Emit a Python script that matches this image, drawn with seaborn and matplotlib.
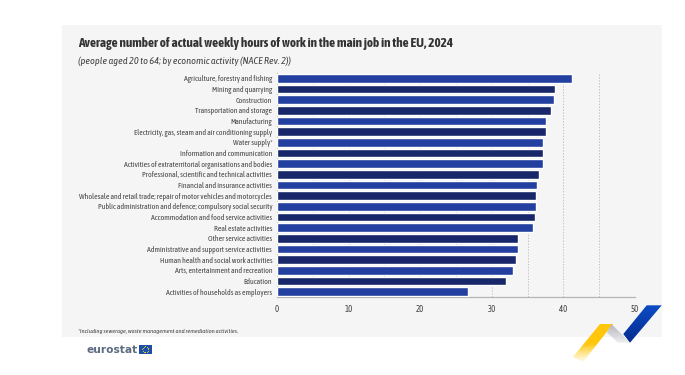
import numpy as np
import pandas as pd
import seaborn as sns
import matplotlib.pyplot as plt
from matplotlib.patches import Polygon, Rectangle

categories = [
    "Agriculture, forestry and fishing",
    "Mining and quarrying",
    "Construction",
    "Transportation and storage",
    "Manufacturing",
    "Electricity, gas, steam and air conditioning supply",
    "Water supply*",
    "Information and communication",
    "Activities of extraterritorial organisations and bodies",
    "Professional, scientific and technical activities",
    "Financial and insurance activities",
    "Wholesale and retail trade; repair of motor vehicles and motorcycles",
    "Public administration and defence; compulsory social security",
    "Accommodation and food service activities",
    "Real estate activities",
    "Other service activities",
    "Administrative and support service activities",
    "Human health and social work activities",
    "Arts, entertainment and recreation",
    "Education",
    "Activities of households as employers",
]
hours = [41.2, 38.8, 38.7, 38.2, 37.5, 37.5, 37.2, 37.1, 37.1, 36.6, 36.3,
         36.2, 36.2, 36.1, 35.7, 33.7, 33.6, 33.4, 33.0, 32.0, 26.7]
x_ticks = [0, 10, 20, 30, 40, 50]

W, H = 685, 375
BLUE = "#2340a0"
NAVY = "#172769"
TEXT = "#444444"

sns.set_theme(style="white")
plt.rcParams["font.family"] = ["Asap Condensed", "Liberation Sans", "DejaVu Sans"]

df = pd.DataFrame({"activity": categories, "hours": hours})
df["band"] = [i % 2 for i in range(len(df))]

fig = plt.figure(figsize=(W / 100, H / 100), dpi=100, facecolor="white")

# page layer in pixel coordinates
bg = fig.add_axes([0, 0, 1, 1], zorder=0)
bg.set_xlim(0, W)
bg.set_ylim(H, 0)
bg.axis("off")
bg.add_patch(Rectangle((62, 25), 600, 312, color="#f5f5f6", lw=0))

ax = fig.add_axes([277 / W, 1 - 297 / H, 358 / W, 224 / H], zorder=1)
ax.patch.set_alpha(0)
sns.barplot(data=df, x="hours", y="activity", hue="band", palette=[BLUE, NAVY],
            dodge=False, legend=False, width=0.8, saturation=1, ax=ax, zorder=3)
ax.set_xlim(0, 50)
ax.set_xlabel("")
ax.set_ylabel("")
ax.set_xticks(x_ticks)
ax.set_xticks(range(0, 51, 5), minor=True)
ax.grid(which="both", axis="x", color="#c4c4c4", lw=0.7, ls=(0, (1.5, 1.5)), zorder=0)
ax.set_axisbelow(True)
ax.tick_params(axis="x", which="both", length=0, pad=6, labelsize=6.3, labelcolor=TEXT)
ax.tick_params(axis="y", length=0, pad=3.5, labelsize=5.55, labelcolor=TEXT)
ax.set_yticks(np.arange(-0.5, len(df)), minor=True)
ax.tick_params(axis="y", which="minor", length=2.5, width=0.6, color="#b9ad8c")
sns.despine(ax=ax, top=True, right=True)
ax.spines["left"].set_color("#b5b5b5")
ax.spines["left"].set_linewidth(0.7)
ax.spines["bottom"].set_color("#b5b5b5")
ax.spines["bottom"].set_linewidth(0.9)

bg.text(78, 44, "Average number of actual weekly hours of work in the main job in the EU, 2024",
        fontsize=9.5, fontweight="bold", color="#333333", va="center")
bg.text(78, 61, "(people aged 20 to 64; by economic activity (NACE Rev. 2))",
        fontsize=7.4, style="italic", color=TEXT, va="center")
bg.text(78, 331, "*Including sewerage, waste management and remediation activities.",
        fontsize=4.6, style="italic", color=TEXT, va="center")

# eurostat logo
bg.text(87, 350, "eurostat", family="DejaVu Sans", fontsize=7.7, fontweight="bold",
        color="#5d6b80", va="center")
bg.add_patch(Rectangle((139, 344.5), 13, 9.5, color="#1c50a8", lw=0))
ang = np.linspace(0, 2 * np.pi, 12, endpoint=False)
bg.scatter(145.5 + 3 * np.cos(ang), 349.2 + 3 * np.sin(ang), s=0.6, color="#f5d33c", lw=0)

# ribbon
def ribbon(pts, cmap_colors, extent, solid=0.0):
    t = np.clip((np.linspace(0, 1, 64) - solid) / (1 - solid), 0, 1).reshape(-1, 1)
    rgba = np.zeros((64, 1, 4))
    c0, c1 = np.array(cmap_colors[0]), np.array(cmap_colors[1])
    rgba[:, 0] = c0 + (c1 - c0) * t
    im = bg.imshow(rgba, extent=extent, aspect="auto", zorder=5, interpolation="bilinear")
    im.set_clip_path(Polygon(pts, transform=bg.transData))

ribbon([(600, 324), (613, 324), (583, 362), (573, 357)],
       [(1, .78, .05, 1), (1, .85, .3, 0)], (570, 615, 364, 324), solid=0.5)
ribbon([(611.5, 324), (630, 342.7), (618, 342.7), (607, 332.5)],
       [(.7, .7, .72, 1), (.95, .95, .96, 1)], (605, 632, 344, 323))
ribbon([(646.7, 305.3), (661.7, 305.3), (630, 342.7), (623.3, 334)],
       [(.05, .3, .78, 1), (.02, .17, .55, 1)], (622, 663, 344, 304))
bg.set_xlim(0, W)
bg.set_ylim(H, 0)

fig.savefig("out.png", dpi=100)
